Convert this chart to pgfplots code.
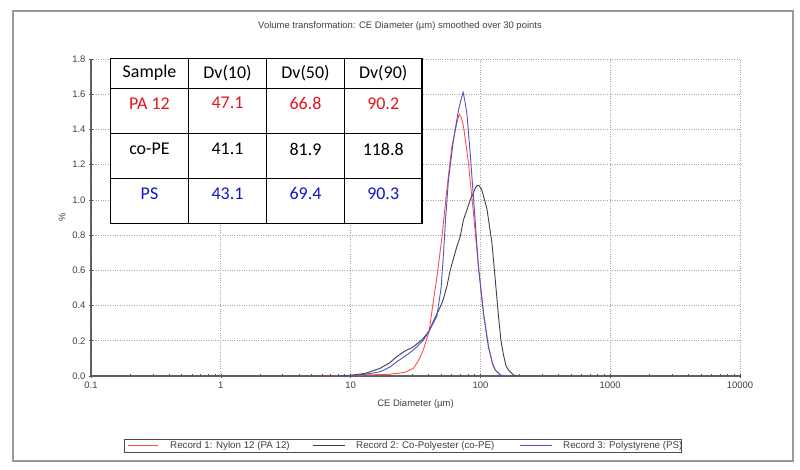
\documentclass[border=0pt]{standalone}
\usepackage{pgfplots}
\pgfplotsset{compat=1.18}
\usepackage{fontspec}
\setmainfont{Liberation Sans}
\newfontfamily\calib{Carlito}
\definecolor{tickc}{HTML}{404040}
\definecolor{cred}{HTML}{FF4D4D}
\definecolor{cblack}{HTML}{404040}
\definecolor{cblue}{HTML}{5050C8}
\definecolor{tred}{HTML}{E3161B}
\definecolor{tblue}{HTML}{1414C8}
\begin{document}
\begin{tikzpicture}[x=1bp,y=1bp]
\useasboundingbox (0,0) rectangle (800,470);
\draw[gray!80, line width=1.2bp] (13,9) rectangle (793,459);
\node[font=\fontsize{9.5}{11}\selectfont, text=tickc] at (400,444) {Volume transformation: CE Diameter (µm) smoothed over 30 points};
\begin{axis}[
  at={(91bp,94bp)}, anchor=south west, scale only axis,
  width=649bp, height=317bp,
  xmode=log, xmin=0.1, xmax=10000, ymin=0, ymax=1.8,
  axis x line*=bottom, axis y line*=left,
  axis line style={-, draw=gray!75!black, line width=1.1bp},
  every outer x axis line/.append style={-},
  every outer y axis line/.append style={-},
  xtick={0.1,1,10,100,1000,10000},
  xticklabels={0.1,1,10,100,1000,10000},
  ytick={0,0.2,0.4,0.6,0.8,1.0,1.2,1.4,1.6,1.8},
  minor y tick num=1,
  yticklabel style={/pgf/number format/fixed, /pgf/number format/fixed zerofill, /pgf/number format/precision=1},
  /pgf/number format/assume math mode=true,
  tick label style={font=\fontsize{9.5}{11}\selectfont, text=tickc},
  tick style={draw=gray!60!black, line width=0.6bp},
  major tick length=4bp, minor tick length=3bp,
  tick align=center,
  grid=major,
  major grid style={dotted, draw=gray!70, line width=0.7bp},
  xlabel={CE Diameter (µm)},
  ylabel={\%},
  every axis x label/.style={at={(rel axis cs:0.5,0)}, anchor=center, yshift=-28bp, font=\fontsize{9.5}{11}\selectfont, text=tickc},
  every axis y label/.style={at={(rel axis cs:0,0.5)}, anchor=center, xshift=-29bp, rotate=90, font=\fontsize{9.5}{11}\selectfont, text=tickc},
]
\addplot[cred, line width=0.9bp] coordinates {
(0.1,0) (4.6,0) (10,0.003) (20,0.01) (26,0.02) (30.5,0.044) (33.5,0.09) (36.4,0.15)
(40.3,0.256) (43.5,0.43) (46.2,0.56) (50.4,0.78) (55.1,1.056) (60.2,1.302) (65.8,1.435)
(68.6,1.486) (71,1.47) (74,1.42) (80.9,1.208) (88.4,0.924) (96.6,0.621) (105.6,0.356)
(115.4,0.166) (124,0.07) (130,0.034) (142,0.006) (155,0) (10000,0)};
\addplot[cblack, line width=0.9bp] coordinates {
(0.1,0) (8,0) (10,0.004) (13,0.015) (16.9,0.044) (20,0.075) (22.7,0.11) (26,0.14)
(30.5,0.166) (36,0.21) (40.3,0.256) (44,0.32) (49.2,0.394) (51.5,0.43) (55.1,0.507)
(58.5,0.60) (65.8,0.734) (69.8,0.79) (74,0.886) (78.7,0.943) (83.4,1.0) (88.4,1.04)
(91.2,1.066) (94.9,1.083) (98,1.08) (102.6,1.056) (112.2,0.95) (122.5,0.76) (130,0.55)
(137.8,0.34) (144,0.2) (150.6,0.12) (157,0.06) (164.5,0.034) (172,0.02) (180,0.006)
(190,0) (10000,0)};
\addplot[cblue, line width=0.9bp] coordinates {
(0.1,0) (8,0) (10,0.002) (13,0.01) (16.9,0.024) (20,0.05) (22.7,0.081) (26,0.11)
(30.5,0.148) (36.4,0.204) (40.3,0.256) (46.2,0.34) (49.8,0.5) (52,0.7) (54,0.9)
(56.7,1.11) (62,1.34) (67.8,1.51) (71,1.57) (73.6,1.611) (76,1.56) (78.7,1.49)
(83.4,1.265) (89.5,0.961) (96.6,0.62) (105.6,0.356) (115.4,0.166) (124,0.07)
(130,0.034) (142,0.006) (155,0) (10000,0)};
\end{axis}
% legend
\draw[black!70, line width=0.8bp] (124.3,17.7) rectangle (681,30.7);
\draw[cred, line width=1.5bp] (128,24.5) -- (158,24.5);
\draw[cblack, line width=1.5bp] (313,24.5) -- (345,24.5);
\draw[cblue, line width=1.5bp] (520,24.5) -- (552,24.5);
\begin{scope}[every node/.style={font=\fontsize{9.8}{11}\selectfont, text=tickc, anchor=west, inner sep=0pt}]
\node at (170,24.2) {Record 1: Nylon 12 (PA 12)};
\node at (356,24.2) {Record 2: Co-Polyester (co-PE)};
\node at (563,24.2) {Record 3: Polystyrene (PS)};
\end{scope}
% summary table
\fill[white] (110.7,246.7) rectangle (422,411.7);
\draw[black, line width=1.2bp] (110.7,246.7) rectangle (422,411.7);
\foreach \yy in {381.7,336.7,291.7} \draw[black, line width=1.2bp] (110.7,\yy) -- (422,\yy);
\foreach \xx in {188.3,266.7,344.3} \draw[black, line width=1.2bp] (\xx,246.7) -- (\xx,411.7);
\begin{scope}[every node/.style={font=\calib\fontsize{18}{20}\selectfont, anchor=center}]
\node at (149.5,397) {Sample};
\node at (227.5,397) {Dv(10)};
\node at (305.5,397) {Dv(50)};
\node at (383.2,397) {Dv(90)};
\node[text=tred] at (149.5,366.7) {PA 12};
\node[text=tred] at (227.5,366.7) {47.1};
\node[text=tred] at (305.5,366.7) {66.8};
\node[text=tred] at (383.2,366.7) {90.2};
\node at (149.5,321) {co-PE};
\node at (227.5,321) {41.1};
\node at (305.5,321) {81.9};
\node at (383.2,321) {118.8};
\node[text=tblue] at (149.5,276) {PS};
\node[text=tblue] at (227.5,276) {43.1};
\node[text=tblue] at (305.5,276) {69.4};
\node[text=tblue] at (383.2,276) {90.3};
\end{scope}
\end{tikzpicture}
\end{document}
